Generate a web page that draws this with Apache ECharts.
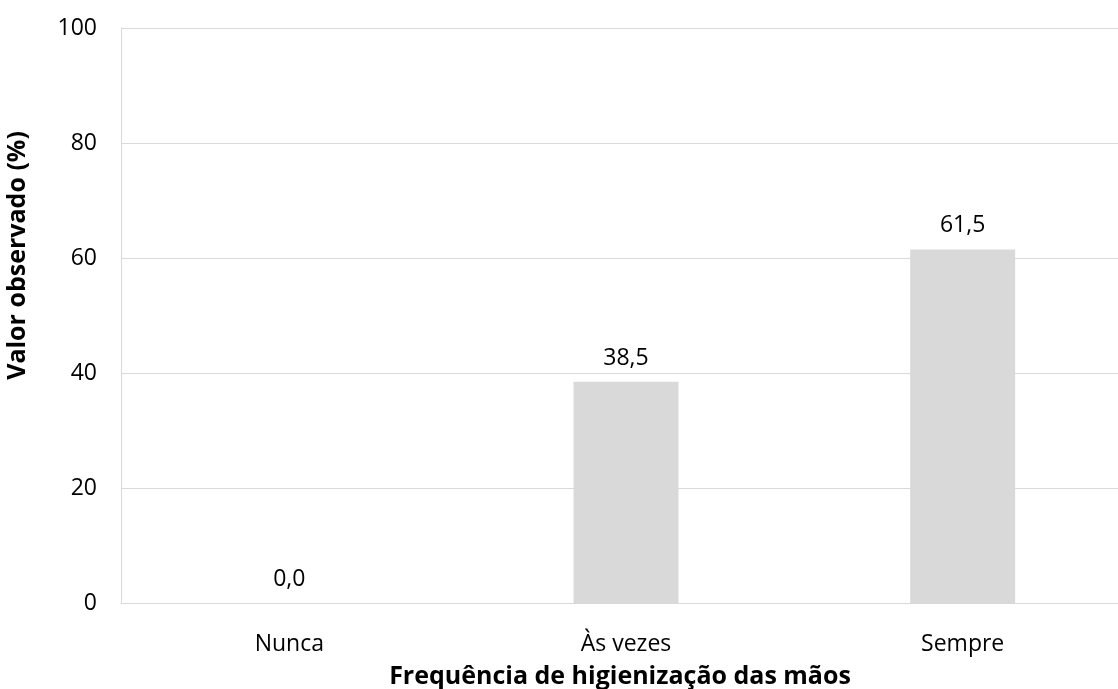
<!DOCTYPE html>
<html><head><meta charset="utf-8">
<script src="https://cdn.jsdelivr.net/npm/echarts@6/dist/echarts.min.js"></script>
<style>html,body{margin:0;padding:0;background:#fff;overflow:hidden}#c{width:1118px;height:689px}</style>
</head><body><div id="c"></div>
<script>
const categories = ['Nunca', 'Às vezes', 'Sempre'];
const values = [0.0, 38.5, 61.5];
const yTicks = { min: 0, max: 100, interval: 20 };
const xTitle = 'Frequência de higienização das mãos';
const yTitle = 'Valor observado (%)';

const FONT = '"Open Sans", sans-serif';
const FS = 23;
const FST = 25;
const chart = echarts.init(document.getElementById('c'), null, { renderer: 'canvas' });
chart.setOption({
  animation: false,
  backgroundColor: '#fff',
  grid: { left: 121, width: 1010, top: 28, height: 575, containLabel: false, outerBoundsMode: 'none' },
  xAxis: {
    type: 'category', data: categories,
    axisLine: { show: true, lineStyle: { color: '#d9d9d9', width: 1 } },
    axisTick: { show: false },
    axisLabel: { color: '#000', fontFamily: FONT, fontSize: FS, margin: 30 },
    name: xTitle, nameLocation: 'middle', nameGap: 61,
    nameTextStyle: { color: '#000', fontFamily: FONT, fontSize: FST, fontWeight: 'bold', padding: [0, 12, 0, 0] }
  },
  yAxis: {
    type: 'value', min: yTicks.min, max: yTicks.max, interval: yTicks.interval,
    axisLine: { show: true, lineStyle: { color: '#d9d9d9', width: 1 } },
    axisTick: { show: false },
    splitLine: { show: true, lineStyle: { color: '#d9d9d9', width: 1 } },
    axisLabel: { color: '#000', fontFamily: FONT, fontSize: FS, margin: 24 },
    name: yTitle, nameLocation: 'middle', nameGap: 91, nameRotate: 90,
    nameTextStyle: { color: '#000', fontFamily: FONT, fontSize: FST, fontWeight: 'bold', padding: [0, 0, 0, 120] }
  },
  series: [{
    type: 'bar', data: values, barWidth: 105,
    itemStyle: { color: '#d9d9d9' },
    label: {
      show: true, position: 'top', distance: 12, color: '#000', fontFamily: FONT, fontSize: FS,
      formatter: p => p.value.toFixed(1).replace('.', ',')
    }
  }]
});
</script></body></html>
